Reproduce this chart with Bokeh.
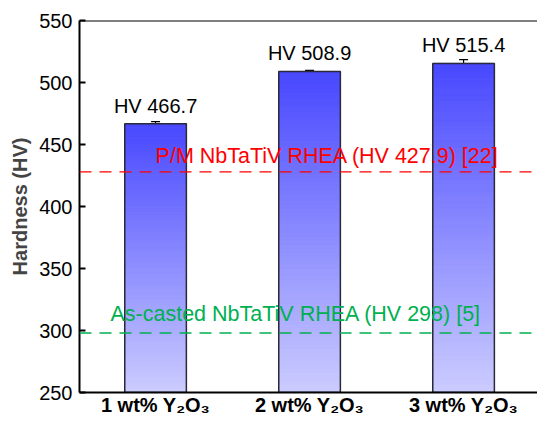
from bokeh.plotting import figure
from bokeh.models import Range1d, Span, Label, Whisker, ColumnDataSource, FixedTicker
from bokeh.core.properties import value
from bokeh.embed import file_html
from bokeh.resources import INLINE

categories = ["1 wt% Y\u2082O\u2083", "2 wt% Y\u2082O\u2083", "3 wt% Y\u2082O\u2083"]
hardness = [466.7, 508.9, 515.4]
errors = [1.7, 0.8, 3.0]
value_labels = ["HV 466.7", "HV 508.9", "HV 515.4"]
ref_values = [427.9, 298.0]
ref_labels = ["P/M NbTaTiV RHEA (HV 427.9) [22]", "As-casted NbTaTiV RHEA (HV 298) [5]"]
y_ticks = [250, 300, 350, 400, 450, 500, 550]

FONT = "Liberation Sans"
base = 250
xs = [i + 1 for i in range(len(categories))]

p = figure(width=537, height=423, output_backend="svg", toolbar_location=None,
           x_range=Range1d(0.506, 3.48), y_range=Range1d(250, 550),
           min_border_left=79, min_border_right=0, min_border_top=20, min_border_bottom=31)
p.outline_line_color = None
p.grid.visible = False
p.background_fill_color = "white"

# gradient bars
N = 80
top_c = (0x48, 0x48, 0xFF)
bot_c = (0xCC, 0xCC, 0xFF)
seg_x, seg_b, seg_t, seg_col = [], [], [], []
for x, v in zip(xs, hardness):
    for k in range(N):
        b = base + (v - base) * k / N
        t = base + (v - base) * (k + 1) / N
        f = (k + 0.5) / N
        c = tuple(int(round(bot_c[j] + (top_c[j] - bot_c[j]) * f)) for j in range(3))
        seg_x.append(x); seg_b.append(b); seg_t.append(t)
        seg_col.append("#%02x%02x%02x" % c)
p.vbar(x=seg_x, bottom=seg_b, top=seg_t, width=0.4, fill_color=seg_col,
       line_color=seg_col, line_width=1)
p.vbar(x=xs, bottom=base, top=hardness, width=0.4, fill_color=None,
       line_color="#2a2a3a", line_width=1.5)

# error bars
src = ColumnDataSource(dict(x=xs, lo=[h - e for h, e in zip(hardness, errors)],
                            hi=[h + e for h, e in zip(hardness, errors)]))
w = Whisker(base="x", lower="lo", upper="hi", source=src, line_color="black", line_width=1.2)
w.upper_head.size = 9
w.lower_head.size = 9
w.upper_head.line_width = 1.2
w.lower_head.line_width = 1.2
p.add_layout(w)

# value labels
p.text(x=xs, y=hardness, text=value_labels, text_align="center", text_baseline="bottom",
       y_offset=-7, text_font=value(FONT), text_font_size="20px", text_color="black")

# reference lines
ref_colors = ["#FF0000", "#00B050"]
ref_text_x = [1.0, 0.707]
ref_text_off = [4, 7]
for rv, rl, rc, tx, off in zip(ref_values, ref_labels, ref_colors, ref_text_x, ref_text_off):
    p.add_layout(Span(location=rv, dimension="width", line_color=rc, line_width=1.3,
                      line_dash="12 8"))
    p.add_layout(Label(x=tx, y=rv, y_offset=off, text=rl, text_color=rc,
                       text_baseline="bottom",
                       text_font=FONT, text_font_size="21.5px"))

# top spine
p.add_layout(Span(location=550, dimension="width", line_color="black", line_width=2))

# axes
p.yaxis.ticker = FixedTicker(ticks=y_ticks)
p.yaxis.axis_line_width = 2
p.yaxis.major_tick_line_width = 2
p.yaxis.major_tick_in = 6
p.yaxis.major_tick_out = 0
p.yaxis.minor_tick_line_color = None
p.yaxis.major_label_standoff = 7
p.yaxis.major_label_text_font = FONT
p.yaxis.major_label_text_font_size = "20px"
p.yaxis.major_label_text_color = "black"
p.yaxis.axis_label = "Hardness (HV)"
p.yaxis.axis_label_text_font = FONT
p.yaxis.axis_label_text_font_style = "bold"
p.yaxis.axis_label_text_font_size = "20px"
p.yaxis.axis_label_standoff = 5

p.xaxis.ticker = FixedTicker(ticks=xs)
p.xaxis.major_label_overrides = {x: c for x, c in zip(xs, categories)}
p.xaxis.axis_line_width = 2
p.xaxis.major_tick_line_color = None
p.xaxis.major_tick_in = 0
p.xaxis.major_tick_out = 0
p.xaxis.minor_tick_line_color = None
p.xaxis.major_label_standoff = 1
p.xaxis.major_label_text_font = FONT
p.xaxis.major_label_text_font_style = "bold"
p.xaxis.major_label_text_font_size = "20px"
p.xaxis.major_label_text_color = "black"

open("out.html", "w").write(file_html(p, INLINE))
